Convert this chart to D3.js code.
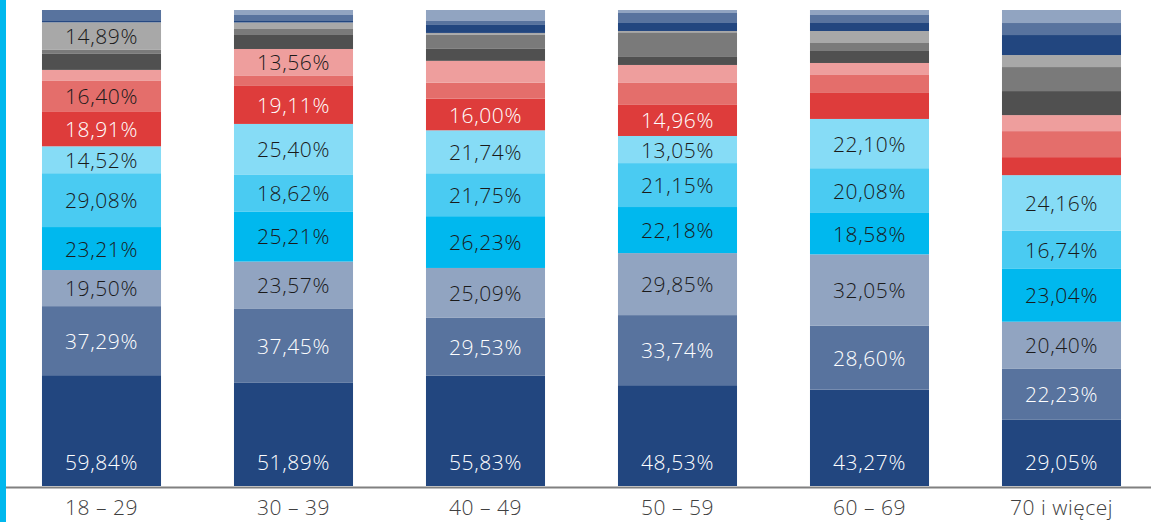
<!DOCTYPE html>
<html><head><meta charset="utf-8">
<script src="https://cdn.jsdelivr.net/npm/d3@7"></script>
<style>
html,body{margin:0;padding:0;background:#fff;}
svg{display:block;}
</style></head>
<body>
<svg id="chart" width="1151" height="522"></svg>
<script>
// Age groups
const categories = ["18 – 29", "30 – 39", "40 – 49", "50 – 59", "60 – 69", "70 i więcej"];
// Series, bottom to top (values in %), each bar is stacked to 100% height
const seriesNames = ["s1","s2","s3","s4","s5","s6","s7","s8","s9","s10","s11","s12","s13","s14","s15"];
const s1  = [59.84, 51.89, 55.83, 48.53, 43.27, 29.05];
const s2  = [37.29, 37.45, 29.53, 33.74, 28.60, 22.23];
const s3  = [19.50, 23.57, 25.09, 29.85, 32.05, 20.40];
const s4  = [23.21, 25.21, 26.23, 22.18, 18.58, 23.04];
const s5  = [29.08, 18.62, 21.75, 21.15, 20.08, 16.74];
const s6  = [14.52, 25.40, 21.74, 13.05, 22.10, 24.16];
const s7  = [18.91, 19.11, 16.00, 14.96, 11.66, 7.86];
const s8  = [16.40, 5.03, 8.08, 10.58, 8.07, 11.35];
const s9  = [5.95, 13.56, 11.11, 8.65, 5.38, 6.99];
const s10 = [8.65, 7.04, 6.06, 3.85, 5.38, 10.48];
const s11 = [2.16, 3.02, 7.07, 11.88, 3.59, 10.48];
const s12 = [14.89, 3.27, 1.01, 0.63, 5.38, 5.24];
const s13 = [0.70, 0.75, 4.04, 3.85, 3.59, 8.73];
const s14 = [5.95, 3.02, 2.02, 4.81, 3.59, 5.24];
const s15 = [0.00, 2.51, 5.56, 1.44, 2.24, 5.68];
const seriesValues = [s1,s2,s3,s4,s5,s6,s7,s8,s9,s10,s11,s12,s13,s14,s15];
const colors = ["#22467f","#58739e","#91a4c1","#00b8ee","#4acbf2","#86dcf6",
                "#de3c3b","#e46e6b","#ee9e9d","#505050","#7a7a7a","#a8a8a8",
                "#22467f","#58739e","#91a4c1"];
const whiteText = new Set(["s1","s2","s7"]);
const labelThreshold = 12.5;

const svg = d3.select("#chart");
const W = 1151, H = 522;
const baseY = 486, topY = 10;
const FONT = "'Open Sans', sans-serif";

// build table
const table = categories.map((c, i) => {
  const row = {cat: c};
  seriesNames.forEach((s, k) => row[s] = seriesValues[k][i]);
  return row;
});

const stack = d3.stack().keys(seriesNames).offset(d3.stackOffsetExpand);
const stacked = stack(table);

const x = d3.scaleBand().domain(categories).range([5.5, 1157.5]).paddingInner(0.38).paddingOuter(0.19);
const y = d3.scaleLinear().domain([0, 1]).range([baseY, topY]);
const color = d3.scaleOrdinal().domain(seriesNames).range(colors);

// left accent bar
svg.append("rect").attr("x", 0).attr("y", 0).attr("width", 6).attr("height", H).attr("fill", "#00b8ee");

const layers = svg.append("g").selectAll("g").data(stacked).join("g")
  .attr("fill", d => color(d.key));
layers.selectAll("rect").data(d => d.map(p => Object.assign(p, {key: d.key}))).join("rect")
  .attr("x", d => x(d.data.cat))
  .attr("width", x.bandwidth())
  .attr("y", d => y(d[1]))
  .attr("height", d => Math.max(0, y(d[0]) - y(d[1])));

// value labels
const labels = [];
stacked.forEach(layer => {
  layer.forEach(p => {
    const v = p.data[layer.key];
    if (v >= labelThreshold) labels.push({key: layer.key, v, p});
  });
});
svg.append("g").selectAll("text").data(labels).join("text")
  .attr("x", d => x(d.p.data.cat) + x.bandwidth() / 2)
  .attr("y", d => d.key === "s1" ? y(d.p[0]) - 24 : (y(d.p[0]) + y(d.p[1])) / 2)
  .attr("text-anchor", "middle")
  .attr("dominant-baseline", "central")
  .attr("font-family", FONT)
  .attr("font-weight", 300)
  .attr("font-size", 21)
  .attr("letter-spacing", 0.6)
  .attr("fill", d => whiteText.has(d.key) ? "#ffffff" : "#1a1a1a")
  .text(d => d3.format(".2f")(d.v).replace(".", ",") + "%");

// x axis
const axis = svg.append("g").attr("transform", `translate(0,${baseY + 1})`)
  .call(d3.axisBottom(x).tickSize(0).tickPadding(13));
axis.select(".domain").attr("stroke", "#808080").attr("stroke-width", 2);
axis.selectAll("text")
  .attr("font-family", FONT)
  .attr("font-weight", 300)
  .attr("font-size", 21)
  .attr("letter-spacing", 0.5)
  .attr("fill", "#404040");
</script>
</body></html>
